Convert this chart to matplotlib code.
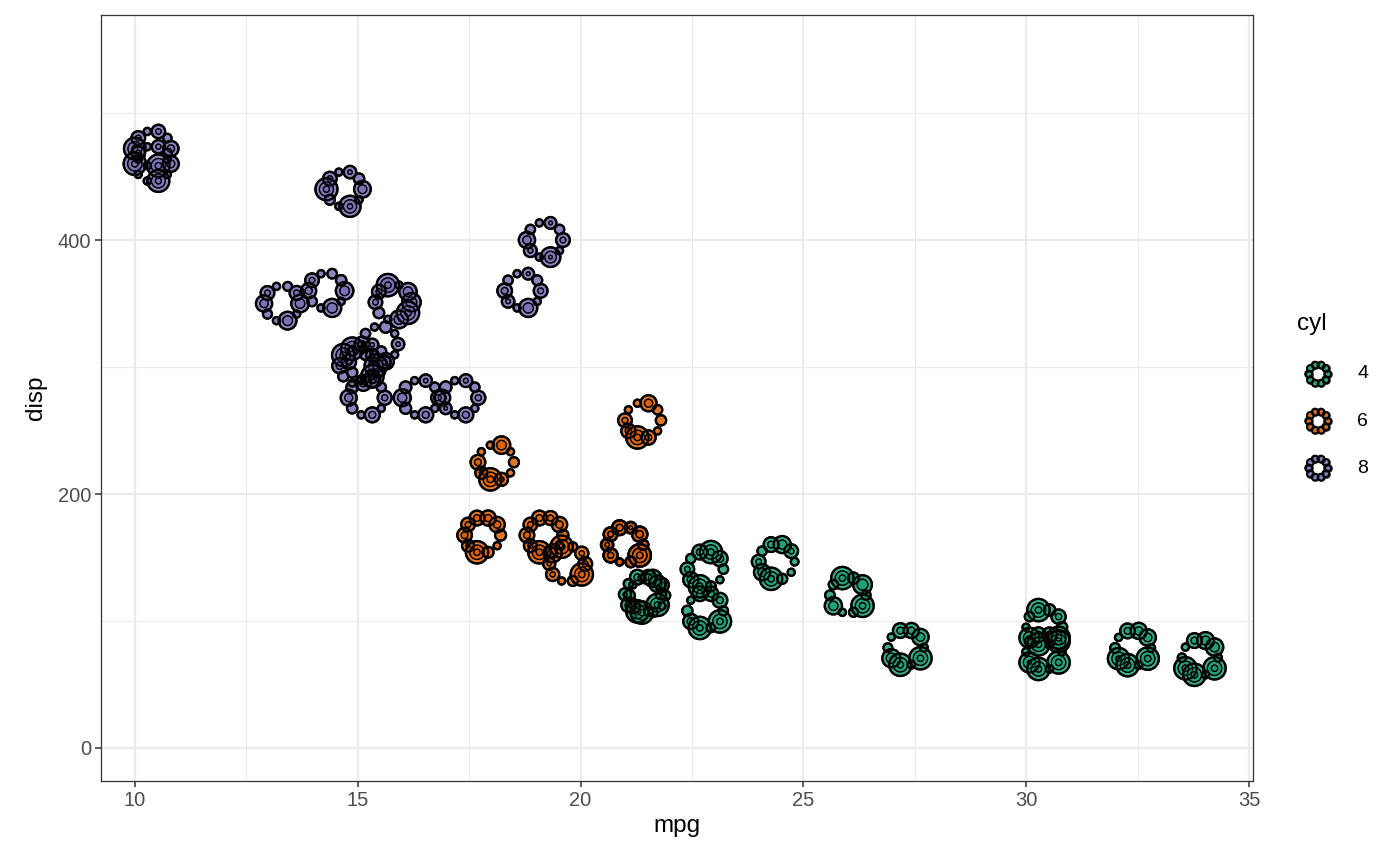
import matplotlib
matplotlib.use('Agg')
import matplotlib.pyplot as plt
import numpy as np

plt.rcParams['font.family'] = ['Liberation Sans', 'DejaVu Sans']

# mtcars
mpg = [21.0, 21.0, 22.8, 21.4, 18.7, 18.1, 14.3, 24.4, 22.8, 19.2, 17.8, 16.4, 17.3, 15.2, 10.4, 10.4,
       14.7, 32.4, 30.4, 33.9, 21.5, 15.5, 15.2, 13.3, 19.2, 27.3, 26.0, 30.4, 15.8, 19.7, 15.0, 21.4]
cyl = [6, 6, 4, 6, 8, 6, 8, 4, 4, 6, 6, 8, 8, 8, 8, 8, 8, 4, 4, 4, 4, 8, 8, 8, 8, 4, 4, 4, 8, 6, 8, 4]
disp = [160.0, 160.0, 108.0, 258.0, 360.0, 225.0, 360.0, 146.7, 140.8, 167.6, 167.6, 275.8, 275.8, 275.8,
        472.0, 460.0, 440.0, 78.7, 75.7, 71.1, 120.1, 318.0, 304.0, 350.0, 400.0, 79.0, 120.3, 95.1,
        351.0, 145.0, 301.0, 121.0]
hp = [110, 110, 93, 110, 175, 105, 245, 62, 95, 123, 123, 180, 180, 180, 205, 215, 230, 66, 52, 65,
      97, 150, 150, 245, 175, 66, 91, 113, 264, 175, 335, 109]
drat = [3.90, 3.90, 3.85, 3.08, 3.15, 2.76, 3.21, 3.69, 3.92, 3.92, 3.92, 3.07, 3.07, 3.07, 2.93, 3.00,
        3.23, 4.08, 4.93, 4.22, 3.70, 2.76, 3.15, 3.73, 3.08, 4.08, 4.43, 3.77, 4.22, 3.62, 3.54, 4.11]
wt = [2.620, 2.875, 2.320, 3.215, 3.440, 3.460, 3.570, 3.190, 3.150, 3.440, 3.440, 4.070, 3.730, 3.780,
      5.250, 5.424, 5.345, 2.200, 1.615, 1.835, 2.465, 3.520, 3.435, 3.840, 3.845, 1.935, 2.140, 1.513,
      3.170, 2.770, 3.570, 2.780]
qsec = [16.46, 17.02, 18.61, 19.44, 17.02, 20.22, 15.84, 20.00, 22.90, 18.30, 18.90, 17.40, 17.60, 18.00,
        17.98, 17.82, 17.42, 19.47, 18.52, 19.90, 20.01, 16.87, 17.30, 15.41, 17.05, 18.90, 16.70, 16.90,
        14.50, 15.50, 14.60, 18.60]
vs = [0, 0, 1, 1, 0, 1, 0, 1, 1, 1, 1, 0, 0, 0, 0, 0, 0, 1, 1, 1, 1, 0, 0, 0, 0, 1, 0, 1, 0, 0, 0, 1]
am = [1, 1, 1, 0, 0, 0, 0, 0, 0, 0, 0, 0, 0, 0, 0, 0, 0, 1, 1, 1, 0, 0, 0, 0, 0, 1, 1, 1, 1, 1, 1, 1]
gear = [4, 4, 4, 3, 3, 3, 3, 4, 4, 4, 4, 3, 3, 3, 3, 3, 3, 4, 4, 4, 3, 3, 3, 3, 3, 4, 5, 5, 5, 5, 5, 4]
carb = [4, 4, 1, 1, 2, 1, 4, 2, 2, 4, 4, 3, 3, 3, 4, 4, 4, 1, 2, 1, 1, 2, 2, 4, 2, 1, 2, 2, 4, 6, 8, 2]

# order of the glyph circles, counter-clockwise from 3 o'clock
glyph_vars = [hp, drat, qsec, gear, carb, wt, mpg, vs, disp, am]

cyl_levels = [4, 6, 8]
cyl_colors = {4: '#1B9E77', 6: '#D95F02', 8: '#7570B3'}

x_ticks = [10, 15, 20, 25, 30, 35]
y_ticks = [0, 200, 400]

W, H = 1400, 866
fig = plt.figure(figsize=(W / 100, H / 100), dpi=100)
L, R, B, T = 101, 1253, 781, 15
ax = fig.add_axes([L / W, 1 - B / H, (R - L) / W, (B - T) / H])
xlim = (9.237, 35.09)
ylim = (-26.0, 577.2)
ax.set_xlim(*xlim)
ax.set_ylim(*ylim)

ax.set_xticks(x_ticks)
ax.set_xticks([12.5, 17.5, 22.5, 27.5, 32.5], minor=True)
ax.set_yticks(y_ticks)
ax.set_yticks([100, 300, 500], minor=True)
ax.grid(True, which='major', color='#EBEBEB', lw=1.6, zorder=0)
ax.grid(True, which='minor', color='#EBEBEB', lw=0.8, zorder=0)
ax.set_axisbelow(True)
ax.tick_params(which='major', length=4, width=1.1, color='#333333', labelcolor='#4D4D4D',
               labelsize=14.5, pad=3)
ax.tick_params(which='minor', length=0)
for s in ax.spines.values():
    s.set_color('#333333')
    s.set_linewidth(0.9)
ax.set_xlabel('mpg', fontsize=17.5, labelpad=4)
ax.set_ylabel('disp', fontsize=17.5, labelpad=8)

# pixel -> data conversion
px_x = (R - L) / (xlim[1] - xlim[0])
px_y = (B - T) / (ylim[1] - ylim[0])

ring_r = 18.0          # px, ring radius
r_min, r_max = 3.6, 11.2   # px, marker radius
ring_step = 4.0
n = len(glyph_vars)
angles = np.arange(n) * 2 * np.pi / n

scaled = []
for v in glyph_vars:
    a = np.asarray(v, dtype=float)
    scaled.append((a - a.min()) / (a.max() - a.min()))
scaled = np.array(scaled)


def ring_circles(r):
    rs = [r]
    while rs[-1] - ring_step > 1.8:
        rs.append(rs[-1] - ring_step)
    return rs


xs, ys, ss, fcs, lws = [], [], [], [], []
for i in range(len(mpg)):
    col = cyl_colors[cyl[i]]
    for k in range(n):
        r = r_min + (r_max - r_min) * scaled[k, i]
        cx = mpg[i] + ring_r * np.cos(angles[k]) / px_x
        cy = disp[i] + ring_r * np.sin(angles[k]) / px_y
        for j, rr in enumerate(ring_circles(r)):
            xs.append(cx)
            ys.append(cy)
            ss.append((2 * rr * 0.72) ** 2)
            fcs.append(col)
            lws.append(1.6 if j == 0 else 0.85)

ax.scatter(xs, ys, s=ss, c=fcs, edgecolors='black', linewidths=lws, alpha=0.85, zorder=3)
ax.scatter(xs, ys, s=ss, facecolors='none', edgecolors='black', linewidths=lws, zorder=3)

# legend
lax = fig.add_axes([0, 0, 1, 1])
lax.set_xlim(0, W)
lax.set_ylim(H, 0)
lax.axis('off')
fig.text(1297 / W, 1 - 324 / H, 'cyl', fontsize=17.5, ha='left', va='center')
for j, lev in enumerate(cyl_levels):
    cy = 374 + 47 * j
    gx = 1318 + 9.5 * np.cos(angles)
    gy = cy - 9.5 * np.sin(angles)
    lax.scatter(gx, gy, s=(2 * 3.4 * 0.72) ** 2, c=cyl_colors[lev], edgecolors='black',
                linewidths=1.3, alpha=0.9)
    lax.scatter(gx, gy, s=(2 * 3.4 * 0.72) ** 2, facecolors='none', edgecolors='black', linewidths=1.3)
    fig.text(1357 / W, 1 - cy / H, str(lev), fontsize=14, ha='left', va='center')

fig.savefig('out.png', dpi=100)
